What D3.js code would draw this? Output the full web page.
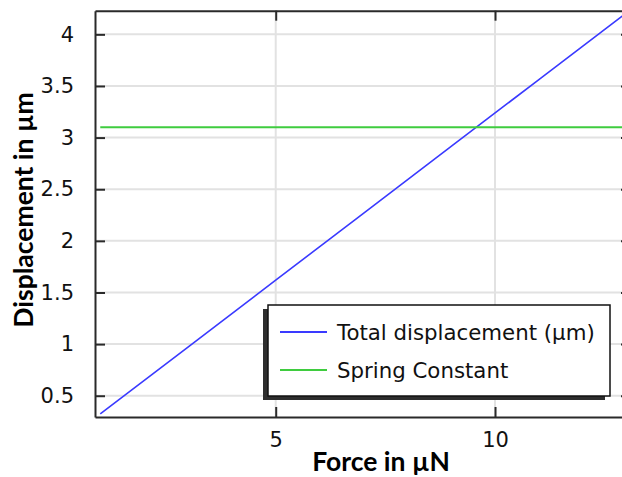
<!DOCTYPE html>
<html>
<head>
<meta charset="utf-8">
<script src="https://cdn.jsdelivr.net/npm/d3@7"></script>
<style>
  html, body { margin: 0; padding: 0; background: #fff; }
  svg { display: block; }
</style>
</head>
<body>
<svg id="chart" width="622" height="477"></svg>
<script>
// Applied force (µN) and the resulting displacement (µm)
const force = [1, 3, 5, 7, 9, 11, 13];
const totalDisplacement = [0.324, 0.971, 1.619, 2.267, 2.914, 3.562, 4.209];
// Spring constant, flat across the force range
const springForce = [1, 13];
const springConstant = [3.1, 3.1];

const xTicks = [5, 10];
const yTicks = [0.5, 1, 1.5, 2, 2.5, 3, 3.5, 4];

const seriesNames = ["Total displacement (µm)", "Spring Constant"];
const seriesColors = ["#3a3aff", "#3fcc3f"];

const svg = d3.select("#chart");

const x = d3.scaleLinear().domain([0.88, 13.1]).range([95, 631]);
const y = d3.scaleLinear().domain([0.294, 4.229]).range([417, 10.7]);

const [x0, x1] = x.range();
const [y0, y1] = y.range();

svg.append("defs").append("clipPath").attr("id", "plotClip")
  .append("rect").attr("x", x0).attr("y", y1).attr("width", x1 - x0).attr("height", y0 - y1);

// grid
const grid = svg.append("g").attr("stroke", "#e2e2e2").attr("stroke-width", 2);
grid.selectAll(".gx").data(xTicks).join("line")
  .attr("x1", d => x(d)).attr("x2", d => x(d)).attr("y1", y0).attr("y2", y1);
grid.selectAll(".gy").data(yTicks).join("line")
  .attr("y1", d => y(d)).attr("y2", d => y(d)).attr("x1", x0).attr("x2", x1);

// axes with inward ticks on all four sides
const tickStyle = g => {
  g.select(".domain").attr("stroke", "#2a2a2a").attr("stroke-width", 2);
  g.selectAll(".tick line").attr("stroke", "#2a2a2a").attr("stroke-width", 2);
  g.selectAll(".tick text").attr("font-family", "DejaVu Sans, sans-serif")
    .attr("font-size", 21).attr("fill", "#111");
};

svg.append("g").attr("transform", `translate(0,${y0})`)
  .call(d3.axisBottom(x).tickValues(xTicks).tickSizeInner(-10).tickSizeOuter(0).tickPadding(15)
    .tickFormat(d3.format("d")))
  .call(tickStyle);

svg.append("g").attr("transform", `translate(0,${y1})`)
  .call(d3.axisTop(x).tickValues(xTicks).tickSizeInner(-10).tickSizeOuter(0).tickFormat(""))
  .call(tickStyle);

svg.append("g").attr("transform", `translate(${x0},0)`)
  .call(d3.axisLeft(y).tickValues(yTicks).tickSizeInner(-10).tickSizeOuter(0).tickPadding(21)
    .tickFormat(d => String(d)))
  .call(tickStyle);

svg.append("g").attr("transform", `translate(${x1},0)`)
  .call(d3.axisRight(y).tickValues(yTicks).tickSizeInner(-10).tickSizeOuter(0).tickFormat(""))
  .call(tickStyle);

// series
const plot = svg.append("g").attr("clip-path", "url(#plotClip)");
const line = d3.line().x(d => x(d[0])).y(d => y(d[1]));

plot.append("path")
  .datum(force.map((f, i) => [f, totalDisplacement[i]]))
  .attr("d", line).attr("fill", "none")
  .attr("stroke", seriesColors[0]).attr("stroke-width", 1.6);

plot.append("path")
  .datum(springForce.map((f, i) => [f, springConstant[i]]))
  .attr("d", line).attr("fill", "none")
  .attr("stroke", seriesColors[1]).attr("stroke-width", 2);

// legend with drop shadow
const lg = svg.append("g");
const lx = 268, ly = 305, lw = 342, lh = 91;
lg.append("rect").attr("x", lx - 5).attr("y", ly + 4).attr("width", lw).attr("height", lh)
  .attr("fill", "#2e2e2e");
lg.append("rect").attr("x", lx).attr("y", ly).attr("width", lw).attr("height", lh)
  .attr("fill", "#fff").attr("stroke", "#111").attr("stroke-width", 1.5);

seriesNames.forEach((name, i) => {
  const cy = ly + 27 + i * 38;
  lg.append("line").attr("x1", lx + 12).attr("x2", lx + 59).attr("y1", cy).attr("y2", cy)
    .attr("stroke", seriesColors[i]).attr("stroke-width", 1.8);
  lg.append("text").attr("x", lx + 69).attr("y", cy).attr("dy", "0.36em")
    .attr("font-family", "DejaVu Sans, sans-serif").attr("font-size", 21.3).attr("fill", "#111")
    .text(name);
});

// axis titles
svg.append("text")
  .attr("x", 381).attr("y", 471).attr("text-anchor", "middle")
  .attr("font-family", "Lato, sans-serif").attr("font-weight", "bold").attr("font-size", 26.5)
  .attr("fill", "#000").text("Force in µN");

svg.append("text")
  .attr("transform", "translate(33,210) rotate(-90)").attr("text-anchor", "middle")
  .attr("font-family", "Lato, sans-serif").attr("font-weight", "bold").attr("font-size", 26.5)
  .attr("fill", "#000").text("Displacement in µm");
</script>
</body>
</html>
